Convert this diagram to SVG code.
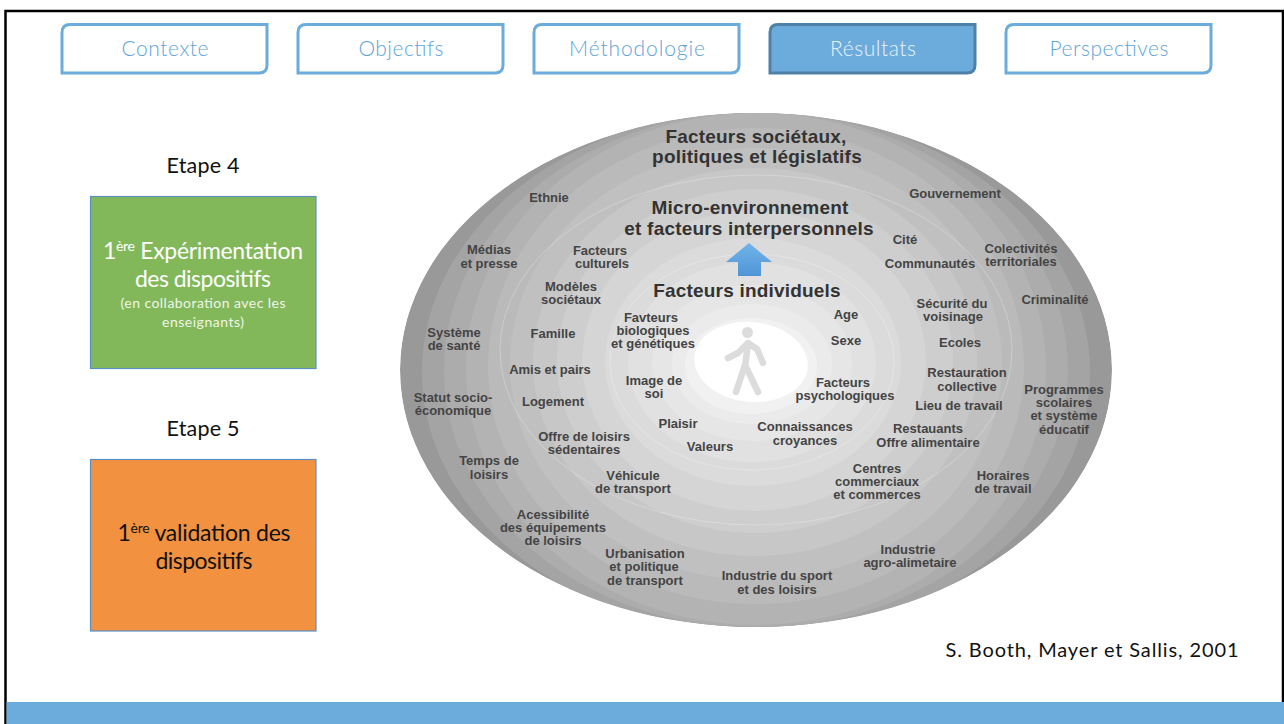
<svg xmlns="http://www.w3.org/2000/svg" width="1284" height="724" viewBox="0 0 1284 724">
<style>
.tab{fill:#fff;stroke:#6cacdc;stroke-width:3}
.tabt{font:300 21px Lato,"Open Sans",sans-serif;fill:#5fa3d8;text-anchor:middle}
.step{font:400 21.500px Lato,"Open Sans",sans-serif;fill:#111;text-anchor:middle}
.big{font:400 23px Lato,"Open Sans",sans-serif;text-anchor:middle}
.sm{font:400 14px Lato,"Open Sans",sans-serif;fill:#eef5e8;text-anchor:middle}
.sup{font-size:14px}
.h{font:700 19px "Liberation Sans",Arial,sans-serif;letter-spacing:.2px;fill:#333;text-anchor:middle}
.l{font:700 13px "Liberation Sans",Arial,sans-serif;fill:#444;text-anchor:middle}
</style>
<defs>
<linearGradient id="arrow" x1="0" x2="0" y1="0" y2="1">
<stop offset="0" stop-color="#72b4ea"/>
<stop offset="1" stop-color="#4f95d6"/>
</linearGradient>
<clipPath id="outer"><ellipse cx="756" cy="370" rx="356" ry="257"/></clipPath>
</defs>
<rect width="1284" height="724" fill="#fff"/>
<path d="M5.500 724V11H1283V724" fill="none" stroke="#000" stroke-width="2.500"/>
<rect x="6.500" y="702" width="1277.500" height="22" fill="#6cacdc"/>

<g id="tab-contexte"><path class="tab" d="M70 24.500H267V65Q267 73 259 73H62V32.500Q62 24.500 70 24.500Z"/><text class="tabt" x="165" y="56" textLength="87">Contexte</text></g>
<g id="tab-objectifs"><path class="tab" d="M306 24.500H503V65Q503 73 495 73H298V32.500Q298 24.500 306 24.500Z"/><text class="tabt" x="401" y="56" textLength="85">Objectifs</text></g>
<g id="tab-methodologie"><path class="tab" d="M542 24.500H739V65Q739 73 731 73H534V32.500Q534 24.500 542 24.500Z"/><text class="tabt" x="637" y="56" textLength="136">Méthodologie</text></g>
<g id="tab-resultats"><path d="M778 24.500H975V65Q975 73 967 73H770V32.500Q770 24.500 778 24.500Z" fill="#6cacdc" stroke="#4e80a8" stroke-width="3"/><text class="tabt" x="873" y="56" textLength="86" style="fill:#e8f2fa">Résultats</text></g>
<g id="tab-perspectives"><path class="tab" d="M1014 24.500H1211V65Q1211 73 1203 73H1006V32.500Q1006 24.500 1014 24.500Z"/><text class="tabt" x="1109" y="56" textLength="119">Perspectives</text></g>

<g id="etape4">
<text class="step" x="203" y="173" textLength="73">Etape 4</text>
<rect x="90.500" y="196.500" width="225.500" height="172" fill="#82b85a" stroke="#5b8fc4" stroke-width="1.200"/>
<text class="big" x="203" y="259" fill="#fff" textLength="200">1<tspan class="sup" dy="-8">ère</tspan><tspan dy="8"> Expérimentation</tspan></text>
<text class="big" x="203" y="287" fill="#fff" textLength="136">des dispositifs</text>
<text class="sm" x="203" y="308" textLength="165">(en collaboration avec les</text>
<text class="sm" x="203" y="327" textLength="82">enseignants)</text>
</g>
<g id="etape5">
<text class="step" x="203" y="436" textLength="73">Etape 5</text>
<rect x="90.500" y="459.500" width="225.500" height="171.500" fill="#f29140" stroke="#5b8fc4" stroke-width="1.200"/>
<text class="big" x="204" y="541" fill="#111" textLength="173">1<tspan class="sup" dy="-8">ère</tspan><tspan dy="8"> validation des</tspan></text>
<text class="big" x="204" y="569" fill="#111" textLength="97">dispositifs</text>
</g>

<g id="ellipse-model">
<g clip-path="url(#outer)">
<ellipse cx="756" cy="370" rx="356" ry="257" fill="#999999"/>
<ellipse cx="756" cy="372" rx="334" ry="262" fill="#a4a4a4"/>
<ellipse cx="756" cy="370" rx="312" ry="258" fill="#acacac"/>
<ellipse cx="756" cy="369" rx="290" ry="256" fill="#b3b3b3"/>
<ellipse cx="756" cy="366" rx="268" ry="238" fill="#bababa"/>
<ellipse cx="756" cy="364" rx="246" ry="216" fill="#c0c0c0"/>
<ellipse cx="755" cy="362" rx="222" ry="194" fill="#c7c7c7"/>
<ellipse cx="755" cy="361" rx="198" ry="172" fill="#cecece"/>
<ellipse cx="754" cy="361" rx="172" ry="150" fill="#d5d5d5"/>
<ellipse cx="753" cy="362" rx="148" ry="124" fill="#dbdbdb"/>
<ellipse cx="752" cy="362" rx="124" ry="100" fill="#e1e1e1"/>
<ellipse cx="752" cy="363" rx="100" ry="78" fill="#e6e6e6"/>
<ellipse cx="752" cy="364" rx="80" ry="60" fill="#ebebeb"/>
<ellipse cx="751" cy="366" rx="66" ry="48" fill="#f1f1f1"/>
<ellipse cx="751" cy="362" rx="57" ry="40" fill="#fff" transform="rotate(6 751 362)"/>
</g>
<ellipse cx="756" cy="350" rx="256" ry="175" fill="none" stroke="#fff" stroke-opacity=".25"/>
<ellipse cx="752" cy="362" rx="142" ry="108" fill="none" stroke="#fff" stroke-opacity=".25"/>
<circle cx="747.500" cy="332.500" r="5.500" fill="#dcdcdc"/>
<path d="M728 358L738 353L748 343L757 349L763 363M748 343L745 367M745 365L736 392M745 365L758 392" fill="none" stroke="#dcdcdc" stroke-width="6.500" stroke-linecap="round" stroke-linejoin="round"/>
<path d="M749 243L772 262H761V276H738V262H726Z" fill="url(#arrow)"/>

<text class="h" x="756" y="143">Facteurs sociétaux,</text>
<text class="h" x="757" y="163">politiques et législatifs</text>
<text class="h" x="750" y="214">Micro-environnement</text>
<text class="h" x="749" y="235">et facteurs interpersonnels</text>
<text class="h" x="747" y="297">Facteurs individuels</text>

<text class="l" x="549" y="202">Ethnie</text>
<text class="l" x="489" y="254">Médias</text><text class="l" x="489" y="268">et presse</text>
<text class="l" x="600" y="255">Facteurs</text><text class="l" x="602" y="268">culturels</text>
<text class="l" x="571" y="291">Modèles</text><text class="l" x="571" y="304">sociétaux</text>
<text class="l" x="454" y="337">Système</text><text class="l" x="454" y="350">de santé</text>
<text class="l" x="553" y="338">Famille</text>
<text class="l" x="651" y="322">Favteurs</text><text class="l" x="653" y="335">biologiques</text><text class="l" x="653" y="348">et génétiques</text>
<text class="l" x="550" y="374">Amis et pairs</text>
<text class="l" x="453" y="402">Statut socio-</text><text class="l" x="453" y="415">économique</text>
<text class="l" x="553" y="406">Logement</text>
<text class="l" x="654" y="385">Image de</text><text class="l" x="654" y="398">soi</text>
<text class="l" x="678" y="428">Plaisir</text>
<text class="l" x="710" y="451">Valeurs</text>
<text class="l" x="584" y="441">Offre de loisirs</text><text class="l" x="584" y="454">sédentaires</text>
<text class="l" x="489" y="465">Temps de</text><text class="l" x="489" y="479">loisirs</text>
<text class="l" x="633" y="480">Véhicule</text><text class="l" x="633" y="493">de transport</text>
<text class="l" x="553" y="519">Acessibilité</text><text class="l" x="553" y="532">des équipements</text><text class="l" x="553" y="545">de loisirs</text>
<text class="l" x="645" y="558">Urbanisation</text><text class="l" x="644" y="571">et politique</text><text class="l" x="645" y="585">de transport</text>
<text class="l" x="777" y="580">Industrie du sport</text><text class="l" x="777" y="594">et des loisirs</text>
<text class="l" x="908" y="554">Industrie</text><text class="l" x="910" y="567">agro-alimetaire</text>
<text class="l" x="1003" y="480">Horaires</text><text class="l" x="1003" y="493">de travail</text>
<text class="l" x="877" y="473">Centres</text><text class="l" x="877" y="486">commerciaux</text><text class="l" x="877" y="499">et commerces</text>
<text class="l" x="928" y="433">Restauants</text><text class="l" x="928" y="447">Offre alimentaire</text>
<text class="l" x="805" y="431">Connaissances</text><text class="l" x="805" y="445">croyances</text>
<text class="l" x="843" y="387">Facteurs</text><text class="l" x="845" y="400">psychologiques</text>
<text class="l" x="959" y="410">Lieu de travail</text>
<text class="l" x="967" y="377">Restauration</text><text class="l" x="967" y="391">collective</text>
<text class="l" x="1064" y="394">Programmes</text><text class="l" x="1064" y="407">scolaires</text><text class="l" x="1064" y="420">et système</text><text class="l" x="1064" y="434">éducatif</text>
<text class="l" x="1055" y="304">Criminalité</text>
<text class="l" x="1021" y="253">Colectivités</text><text class="l" x="1021" y="266">territoriales</text>
<text class="l" x="955" y="198">Gouvernement</text>
<text class="l" x="905" y="244">Cité</text>
<text class="l" x="930" y="268">Communautés</text>
<text class="l" x="952" y="308">Sécurité du</text><text class="l" x="953" y="321">voisinage</text>
<text class="l" x="960" y="347">Ecoles</text>
<text class="l" x="846" y="319">Age</text>
<text class="l" x="846" y="345">Sexe</text>
</g>
<text id="source" x="1092" y="657" font-family="Lato,'Open Sans',sans-serif" font-size="20" fill="#111" text-anchor="middle" textLength="293">S. Booth, Mayer et Sallis, 2001</text>
</svg>
